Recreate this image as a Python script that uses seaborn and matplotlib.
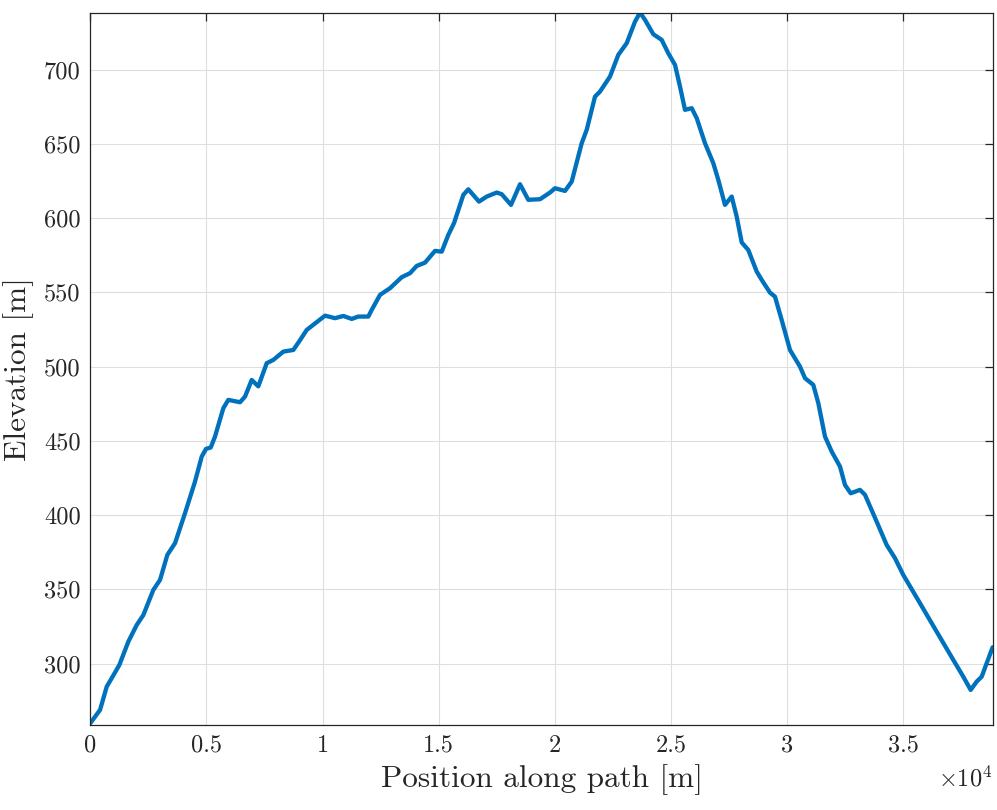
import matplotlib

matplotlib.use("Agg")
import matplotlib.pyplot as plt
import seaborn as sns

# elevation profile
position_m = [
    0, 418, 706, 921, 1250, 1637, 1998, 2283, 2713, 3002, 3317, 3648, 4078,
    4509, 4798, 4983, 5185, 5370, 5728, 5943, 6447, 6662, 6951, 7235, 7597,
    7881, 8312, 8743, 9031, 9320, 10108, 10539, 10896, 11258, 11542, 11973,
    12119, 12477, 12907, 13411, 13768, 14057, 14414, 14845, 15134, 15418,
    15663, 16064, 16279, 16740, 17072, 17502, 17717, 18118, 18506, 18863,
    19367, 19797, 20013, 20444, 20733, 21162, 21378, 21735, 21951, 22381,
    22739, 23101, 23459, 23674, 23889, 24247, 24608, 24892, 25181, 25396,
    25612, 25900, 26116, 26473, 26830, 27046, 27334, 27623, 27838, 28054,
    28338, 28700, 28915, 29272, 29487, 29776, 30133, 30564, 30780, 31137,
    31353, 31641, 31930, 32287, 32503, 32748, 33147, 33363, 33867, 34297,
    34656, 35013, 35732, 36451, 37166, 37597, 37915, 38174, 38390, 38605,
    38860,
]
elevation_m = [
    259.9, 268.8, 284.5, 290.2, 299.1, 314.8, 326.0, 332.7, 349.6, 356.4,
    373.2, 381.1, 401.3, 422.6, 439.4, 444.6, 445.5, 452.9, 472.0, 477.6,
    476.0, 479.8, 491.0, 486.7, 502.3, 504.5, 510.1, 511.2, 517.8, 524.7,
    534.3, 532.6, 534.1, 532.1, 533.7, 533.7, 538.2, 548.3, 552.8, 560.2,
    562.9, 567.8, 570.0, 577.9, 577.4, 588.7, 596.6, 615.6, 619.4, 611.1,
    614.5, 617.2, 616.1, 608.9, 622.8, 612.3, 612.7, 617.2, 620.1, 618.3,
    624.6, 650.4, 659.4, 681.8, 685.2, 695.3, 709.9, 717.8, 732.3, 738.4,
    733.5, 723.8, 720.0, 711.0, 703.2, 688.6, 672.9, 674.0, 667.3, 650.4,
    637.0, 625.7, 608.9, 614.5, 601.0, 583.6, 578.5, 564.0, 558.4, 549.8,
    547.1, 531.4, 511.2, 500.0, 492.2, 487.7, 475.4, 452.9, 442.8, 432.7,
    420.3, 414.7, 417.0, 413.7, 395.6, 379.9, 371.0, 359.7, 340.7, 321.5,
    302.5, 291.2, 282.3, 287.9, 291.2, 300.3, 311.0,
]

x_ticks = [0, 5000, 10000, 15000, 20000, 25000, 30000, 35000]
x_tick_labels = ["0", "0.5", "1", "1.5", "2", "2.5", "3", "3.5"]
y_ticks = [300, 350, 400, 450, 500, 550, 600, 650, 700]

sns.set_theme(style="white")
plt.rcParams["font.family"] = ["cmr10", "DejaVu Serif"]
plt.rcParams["mathtext.fontset"] = "cm"
plt.rcParams["axes.unicode_minus"] = False

AX_COLOR = "#262626"

fig = plt.figure(figsize=(9.97, 8.10), dpi=100)
ax = fig.add_axes([0.0906, 0.105, 0.905, 0.8795])

sns.lineplot(x=position_m, y=elevation_m, ax=ax, color="#0072BD",
             linewidth=3.1, solid_joinstyle="round", solid_capstyle="round")

ax.set_xlim(0, 38860)
ax.set_ylim(258.7, 738.4)
ax.set_xticks(x_ticks)
ax.set_xticklabels(x_tick_labels)
ax.set_yticks(y_ticks)
ax.set_yticklabels([str(v) for v in y_ticks])

ax.grid(True, color="#dedede", linewidth=0.8)
ax.set_axisbelow(True)
for side in ["top", "bottom", "left", "right"]:
    ax.spines[side].set_color(AX_COLOR)
    ax.spines[side].set_linewidth(0.9)
ax.tick_params(direction="in", length=6, width=0.9, colors=AX_COLOR,
               labelsize=17.5, top=True, right=True, pad=7)

ax.set_xlabel("Position along path [m]", fontsize=22.5, color=AX_COLOR, labelpad=5)
ax.set_ylabel("Elevation [m]", fontsize=22.5, color=AX_COLOR, labelpad=7)
ax.text(1.0, -0.0758, r"$\times10^{4}$", transform=ax.transAxes,
        ha="right", va="center", fontsize=17.5, color=AX_COLOR)

fig.savefig("out.png", dpi=100)
plt.close(fig)
